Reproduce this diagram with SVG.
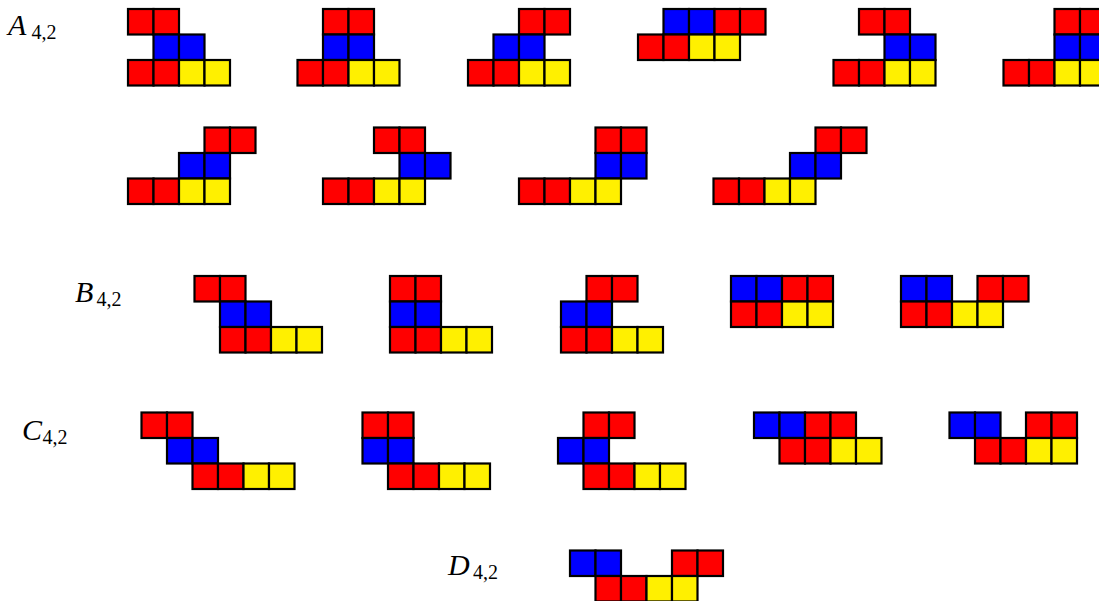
<svg xmlns="http://www.w3.org/2000/svg" xmlns:xlink="http://www.w3.org/1999/xlink" width="1099" height="601" viewBox="0 0 1099 601">
<style>
.lbl{font-family:"Liberation Serif","DejaVu Serif",serif;font-size:30px;font-style:italic;fill:#000}
.sub{font-family:"Liberation Serif","DejaVu Serif",serif;font-size:20px;font-style:normal;fill:#000}
</style>
<defs>
<rect id="R" width="25.5" height="25.5" fill="#FF0000" stroke="#000" stroke-width="2.2"/>
<rect id="B" width="25.5" height="25.5" fill="#0000FF" stroke="#000" stroke-width="2.2"/>
<rect id="Y" width="25.5" height="25.5" fill="#FFF000" stroke="#000" stroke-width="2.2"/>
</defs>
<rect width="1099" height="601" fill="#fff"/>
<g id="labels">
<text class="lbl" x="8" y="35">A<tspan class="sub" x="31.5" y="39">4,2</tspan></text>
<text class="lbl" x="75" y="301.5">B<tspan class="sub" x="96.5" y="305.5">4,2</tspan></text>
<text class="lbl" x="22" y="440">C<tspan class="sub" x="42.5" y="444">4,2</tspan></text>
<text class="lbl" x="448" y="575">D<tspan class="sub" x="473" y="579">4,2</tspan></text>
</g>
<g id="A1" transform="translate(128,9)">
<use href="#R" x="0" y="0"/><use href="#R" x="25.5" y="0"/>
<use href="#B" x="25.5" y="25.5"/><use href="#B" x="51" y="25.5"/>
<use href="#R" x="0" y="51"/><use href="#R" x="25.5" y="51"/><use href="#Y" x="51" y="51"/><use href="#Y" x="76.5" y="51"/>
</g>
<g id="A2" transform="translate(297.5,9)">
<use href="#R" x="25.5" y="0"/><use href="#R" x="51" y="0"/>
<use href="#B" x="25.5" y="25.5"/><use href="#B" x="51" y="25.5"/>
<use href="#R" x="0" y="51"/><use href="#R" x="25.5" y="51"/><use href="#Y" x="51" y="51"/><use href="#Y" x="76.5" y="51"/>
</g>
<g id="A3" transform="translate(468,9)">
<use href="#R" x="51" y="0"/><use href="#R" x="76.5" y="0"/>
<use href="#B" x="25.5" y="25.5"/><use href="#B" x="51" y="25.5"/>
<use href="#R" x="0" y="51"/><use href="#R" x="25.5" y="51"/><use href="#Y" x="51" y="51"/><use href="#Y" x="76.5" y="51"/>
</g>
<g id="A4" transform="translate(638,9)">
<use href="#B" x="25.5" y="0"/><use href="#B" x="51" y="0"/><use href="#R" x="76.5" y="0"/><use href="#R" x="102" y="0"/>
<use href="#R" x="0" y="25.5"/><use href="#R" x="25.5" y="25.5"/><use href="#Y" x="51" y="25.5"/><use href="#Y" x="76.5" y="25.5"/>
</g>
<g id="A5" transform="translate(833.5,9)">
<use href="#R" x="25.5" y="0"/><use href="#R" x="51" y="0"/>
<use href="#B" x="51" y="25.5"/><use href="#B" x="76.5" y="25.5"/>
<use href="#R" x="0" y="51"/><use href="#R" x="25.5" y="51"/><use href="#Y" x="51" y="51"/><use href="#Y" x="76.5" y="51"/>
</g>
<g id="A6" transform="translate(1003.5,9)">
<use href="#R" x="51" y="0"/><use href="#R" x="76.5" y="0"/>
<use href="#B" x="51" y="25.5"/><use href="#B" x="76.5" y="25.5"/>
<use href="#R" x="0" y="51"/><use href="#R" x="25.5" y="51"/><use href="#Y" x="51" y="51"/><use href="#Y" x="76.5" y="51"/>
</g>
<g id="A7" transform="translate(128,127.5)">
<use href="#R" x="76.5" y="0"/><use href="#R" x="102" y="0"/>
<use href="#B" x="51" y="25.5"/><use href="#B" x="76.5" y="25.5"/>
<use href="#R" x="0" y="51"/><use href="#R" x="25.5" y="51"/><use href="#Y" x="51" y="51"/><use href="#Y" x="76.5" y="51"/>
</g>
<g id="A8" transform="translate(323,127.5)">
<use href="#R" x="51" y="0"/><use href="#R" x="76.5" y="0"/>
<use href="#B" x="76.5" y="25.5"/><use href="#B" x="102" y="25.5"/>
<use href="#R" x="0" y="51"/><use href="#R" x="25.5" y="51"/><use href="#Y" x="51" y="51"/><use href="#Y" x="76.5" y="51"/>
</g>
<g id="A9" transform="translate(519,127.5)">
<use href="#R" x="76.5" y="0"/><use href="#R" x="102" y="0"/>
<use href="#B" x="76.5" y="25.5"/><use href="#B" x="102" y="25.5"/>
<use href="#R" x="0" y="51"/><use href="#R" x="25.5" y="51"/><use href="#Y" x="51" y="51"/><use href="#Y" x="76.5" y="51"/>
</g>
<g id="A10" transform="translate(713.5,127.5)">
<use href="#R" x="102" y="0"/><use href="#R" x="127.5" y="0"/>
<use href="#B" x="76.5" y="25.5"/><use href="#B" x="102" y="25.5"/>
<use href="#R" x="0" y="51"/><use href="#R" x="25.5" y="51"/><use href="#Y" x="51" y="51"/><use href="#Y" x="76.5" y="51"/>
</g>
<g id="B1" transform="translate(194.5,276)">
<use href="#R" x="0" y="0"/><use href="#R" x="25.5" y="0"/>
<use href="#B" x="25.5" y="25.5"/><use href="#B" x="51" y="25.5"/>
<use href="#R" x="25.5" y="51"/><use href="#R" x="51" y="51"/><use href="#Y" x="76.5" y="51"/><use href="#Y" x="102" y="51"/>
</g>
<g id="B2" transform="translate(390,276)">
<use href="#R" x="0" y="0"/><use href="#R" x="25.5" y="0"/>
<use href="#B" x="0" y="25.5"/><use href="#B" x="25.5" y="25.5"/>
<use href="#R" x="0" y="51"/><use href="#R" x="25.5" y="51"/><use href="#Y" x="51" y="51"/><use href="#Y" x="76.5" y="51"/>
</g>
<g id="B3" transform="translate(561,276)">
<use href="#R" x="25.5" y="0"/><use href="#R" x="51" y="0"/>
<use href="#B" x="0" y="25.5"/><use href="#B" x="25.5" y="25.5"/>
<use href="#R" x="0" y="51"/><use href="#R" x="25.5" y="51"/><use href="#Y" x="51" y="51"/><use href="#Y" x="76.5" y="51"/>
</g>
<g id="B4" transform="translate(731,276)">
<use href="#B" x="0" y="0"/><use href="#B" x="25.5" y="0"/><use href="#R" x="51" y="0"/><use href="#R" x="76.5" y="0"/>
<use href="#R" x="0" y="25.5"/><use href="#R" x="25.5" y="25.5"/><use href="#Y" x="51" y="25.5"/><use href="#Y" x="76.5" y="25.5"/>
</g>
<g id="B5" transform="translate(901,276)">
<use href="#B" x="0" y="0"/><use href="#B" x="25.5" y="0"/><use href="#R" x="76.5" y="0"/><use href="#R" x="102" y="0"/>
<use href="#R" x="0" y="25.5"/><use href="#R" x="25.5" y="25.5"/><use href="#Y" x="51" y="25.5"/><use href="#Y" x="76.5" y="25.5"/>
</g>
<g id="C1" transform="translate(141.5,412.5)">
<use href="#R" x="0" y="0"/><use href="#R" x="25.5" y="0"/>
<use href="#B" x="25.5" y="25.5"/><use href="#B" x="51" y="25.5"/>
<use href="#R" x="51" y="51"/><use href="#R" x="76.5" y="51"/><use href="#Y" x="102" y="51"/><use href="#Y" x="127.5" y="51"/>
</g>
<g id="C2" transform="translate(362.5,412.5)">
<use href="#R" x="0" y="0"/><use href="#R" x="25.5" y="0"/>
<use href="#B" x="0" y="25.5"/><use href="#B" x="25.5" y="25.5"/>
<use href="#R" x="25.5" y="51"/><use href="#R" x="51" y="51"/><use href="#Y" x="76.5" y="51"/><use href="#Y" x="102" y="51"/>
</g>
<g id="C3" transform="translate(558,412.5)">
<use href="#R" x="25.5" y="0"/><use href="#R" x="51" y="0"/>
<use href="#B" x="0" y="25.5"/><use href="#B" x="25.5" y="25.5"/>
<use href="#R" x="25.5" y="51"/><use href="#R" x="51" y="51"/><use href="#Y" x="76.5" y="51"/><use href="#Y" x="102" y="51"/>
</g>
<g id="C4" transform="translate(754,412.5)">
<use href="#B" x="0" y="0"/><use href="#B" x="25.5" y="0"/><use href="#R" x="51" y="0"/><use href="#R" x="76.5" y="0"/>
<use href="#R" x="25.5" y="25.5"/><use href="#R" x="51" y="25.5"/><use href="#Y" x="76.5" y="25.5"/><use href="#Y" x="102" y="25.5"/>
</g>
<g id="C5" transform="translate(949.5,412.5)">
<use href="#B" x="0" y="0"/><use href="#B" x="25.5" y="0"/><use href="#R" x="76.5" y="0"/><use href="#R" x="102" y="0"/>
<use href="#R" x="25.5" y="25.5"/><use href="#R" x="51" y="25.5"/><use href="#Y" x="76.5" y="25.5"/><use href="#Y" x="102" y="25.5"/>
</g>
<g id="D1" transform="translate(570,550.5)">
<use href="#B" x="0" y="0"/><use href="#B" x="25.5" y="0"/><use href="#R" x="102" y="0"/><use href="#R" x="127.5" y="0"/>
<use href="#R" x="25.5" y="25.5"/><use href="#R" x="51" y="25.5"/><use href="#Y" x="76.5" y="25.5"/><use href="#Y" x="102" y="25.5"/>
</g>
<g id="connectors"/>
</svg>
